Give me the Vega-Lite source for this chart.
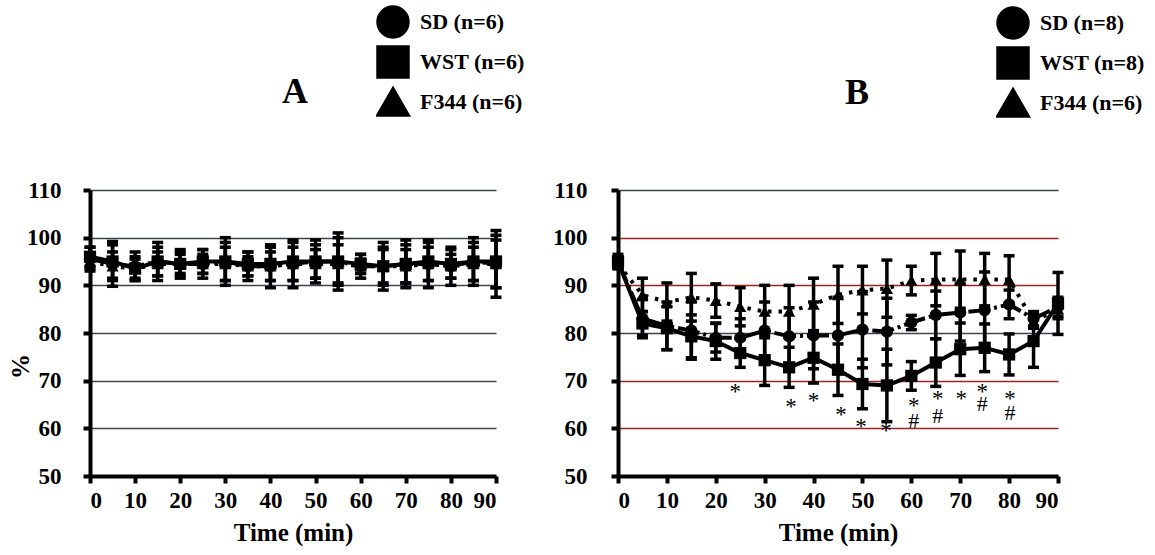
{
  "$schema": "https://vega.github.io/schema/vega-lite/v6.json",
  "background": "white",
  "padding": {"left": 8, "top": 2, "right": 5, "bottom": 5},
  "config": {
    "font": "Liberation Serif",
    "view": {"stroke": null},
    "axis": {
      "domainColor": "black", "domainWidth": 4, "tickColor": "black", "tickWidth": 4, "tickSize": 7,
      "labelFont": "Liberation Serif", "labelFontSize": 23, "labelFontWeight": "bold", "labelColor": "black",
      "titleFont": "Liberation Serif", "titleFontSize": 25, "titleFontWeight": "bold", "titleColor": "black"
    },
    "legend": {"title": null, "orient": "none", "padding": 0, "symbolSize": 900, "clipHeight": 40, "rowPadding": 0,
      "symbolStrokeWidth": 3.5, "symbolStrokeColor": "black", "symbolFillColor": "black",
      "labelFont": "Liberation Serif", "labelFontSize": 22, "labelFontWeight": "bold", "labelColor": "black", "labelOffset": 10},
    "title": {"font": "Liberation Serif", "fontSize": 36, "fontWeight": "bold", "color": "black"}
  },
  "datasets": {
    "a": [
      {"t":0,"label":"SD (n=6)","v":95.5,"e":2.5},{"t":0,"label":"WST (n=6)","v":96,"e":2},{"t":0,"label":"F344 (n=6)","v":95,"e":1.5},
      {"t":5,"label":"SD (n=6)","v":94.5,"e":4.7},{"t":5,"label":"WST (n=6)","v":95,"e":3.5},{"t":5,"label":"F344 (n=6)","v":94,"e":3},
      {"t":10,"label":"SD (n=6)","v":94,"e":3},{"t":10,"label":"WST (n=6)","v":93.5,"e":2.5},{"t":10,"label":"F344 (n=6)","v":93.5,"e":2},
      {"t":15,"label":"SD (n=6)","v":95,"e":4},{"t":15,"label":"WST (n=6)","v":95,"e":3},{"t":15,"label":"F344 (n=6)","v":94.5,"e":2.5},
      {"t":20,"label":"SD (n=6)","v":94.5,"e":3},{"t":20,"label":"WST (n=6)","v":94.5,"e":2.5},{"t":20,"label":"F344 (n=6)","v":94.5,"e":2},
      {"t":25,"label":"SD (n=6)","v":94.5,"e":3},{"t":25,"label":"WST (n=6)","v":95,"e":2.5},{"t":25,"label":"F344 (n=6)","v":94.5,"e":2},
      {"t":30,"label":"SD (n=6)","v":95,"e":5},{"t":30,"label":"WST (n=6)","v":95,"e":4},{"t":30,"label":"F344 (n=6)","v":94.5,"e":3.5},
      {"t":35,"label":"SD (n=6)","v":94,"e":3},{"t":35,"label":"WST (n=6)","v":94.5,"e":2.5},{"t":35,"label":"F344 (n=6)","v":94,"e":2},
      {"t":40,"label":"SD (n=6)","v":94,"e":4.5},{"t":40,"label":"WST (n=6)","v":94.5,"e":3.5},{"t":40,"label":"F344 (n=6)","v":94,"e":3},
      {"t":45,"label":"SD (n=6)","v":94.5,"e":5},{"t":45,"label":"WST (n=6)","v":95,"e":4},{"t":45,"label":"F344 (n=6)","v":94.5,"e":3.5},
      {"t":50,"label":"SD (n=6)","v":95,"e":4.5},{"t":50,"label":"WST (n=6)","v":95,"e":3.5},{"t":50,"label":"F344 (n=6)","v":94.5,"e":3},
      {"t":55,"label":"SD (n=6)","v":95,"e":6},{"t":55,"label":"WST (n=6)","v":95,"e":5},{"t":55,"label":"F344 (n=6)","v":94.5,"e":4},
      {"t":60,"label":"SD (n=6)","v":94,"e":2.5},{"t":60,"label":"WST (n=6)","v":94.5,"e":2},{"t":60,"label":"F344 (n=6)","v":94,"e":1.5},
      {"t":65,"label":"SD (n=6)","v":94,"e":5},{"t":65,"label":"WST (n=6)","v":94,"e":4},{"t":65,"label":"F344 (n=6)","v":94,"e":3.5},
      {"t":70,"label":"SD (n=6)","v":94.5,"e":5},{"t":70,"label":"WST (n=6)","v":94.5,"e":4},{"t":70,"label":"F344 (n=6)","v":94,"e":3.5},
      {"t":75,"label":"SD (n=6)","v":94.5,"e":5},{"t":75,"label":"WST (n=6)","v":95,"e":4},{"t":75,"label":"F344 (n=6)","v":94.5,"e":3.5},
      {"t":80,"label":"SD (n=6)","v":94,"e":4},{"t":80,"label":"WST (n=6)","v":94.5,"e":3},{"t":80,"label":"F344 (n=6)","v":94,"e":2.5},
      {"t":85,"label":"SD (n=6)","v":95,"e":5},{"t":85,"label":"WST (n=6)","v":95,"e":4},{"t":85,"label":"F344 (n=6)","v":94.5,"e":3.5},
      {"t":90,"label":"SD (n=6)","v":94.5,"e":7},{"t":90,"label":"WST (n=6)","v":95,"e":5.5},{"t":90,"label":"F344 (n=6)","v":94.5,"e":5}
    ],
    "b": [
      {"t":0,"label":"SD (n=8)","v":95,"e":1},{"t":0,"label":"WST (n=8)","v":95,"e":1.5},{"t":0,"label":"F344 (n=6)","v":94.5,"e":1},
      {"t":5,"label":"SD (n=8)","v":83,"e":4},{"t":5,"label":"WST (n=8)","v":82,"e":2.5},{"t":5,"label":"F344 (n=6)","v":88,"e":3.5},
      {"t":10,"label":"SD (n=8)","v":81.5,"e":5},{"t":10,"label":"WST (n=8)","v":81,"e":4.5},{"t":10,"label":"F344 (n=6)","v":86.5,"e":4},
      {"t":15,"label":"SD (n=8)","v":80.5,"e":6},{"t":15,"label":"WST (n=8)","v":79.3,"e":4.5},{"t":15,"label":"F344 (n=6)","v":87.5,"e":5},
      {"t":20,"label":"SD (n=8)","v":79,"e":3},{"t":20,"label":"WST (n=8)","v":78.3,"e":3.8},{"t":20,"label":"F344 (n=6)","v":86.8,"e":3.5},
      {"t":25,"label":"SD (n=8)","v":79,"e":4},{"t":25,"label":"WST (n=8)","v":75.8,"e":3},{"t":25,"label":"F344 (n=6)","v":85.5,"e":4},
      {"t":30,"label":"SD (n=8)","v":80.5,"e":6},{"t":30,"label":"WST (n=8)","v":74.3,"e":5.3},{"t":30,"label":"F344 (n=6)","v":84.5,"e":5.5},
      {"t":35,"label":"SD (n=8)","v":79.3,"e":6},{"t":35,"label":"WST (n=8)","v":72.8,"e":4.2},{"t":35,"label":"F344 (n=6)","v":84.5,"e":5.5},
      {"t":40,"label":"SD (n=8)","v":79.5,"e":7},{"t":40,"label":"WST (n=8)","v":74.8,"e":5.3},{"t":40,"label":"F344 (n=6)","v":86,"e":5.5},
      {"t":45,"label":"SD (n=8)","v":79.5,"e":8},{"t":45,"label":"WST (n=8)","v":72.3,"e":5.4},{"t":45,"label":"F344 (n=6)","v":88,"e":6},
      {"t":50,"label":"SD (n=8)","v":80.7,"e":8},{"t":50,"label":"WST (n=8)","v":69.3,"e":5.2},{"t":50,"label":"F344 (n=6)","v":89,"e":5},
      {"t":55,"label":"SD (n=8)","v":80.3,"e":7},{"t":55,"label":"WST (n=8)","v":69,"e":7.6},{"t":55,"label":"F344 (n=6)","v":89.3,"e":6},
      {"t":60,"label":"SD (n=8)","v":82.2,"e":1.5},{"t":60,"label":"WST (n=8)","v":71,"e":3},{"t":60,"label":"F344 (n=6)","v":91,"e":3},
      {"t":65,"label":"SD (n=8)","v":83.8,"e":5},{"t":65,"label":"WST (n=8)","v":73.8,"e":5},{"t":65,"label":"F344 (n=6)","v":91.2,"e":5.5},
      {"t":70,"label":"SD (n=8)","v":84.3,"e":6},{"t":70,"label":"WST (n=8)","v":76.6,"e":5.5},{"t":70,"label":"F344 (n=6)","v":91.2,"e":6},
      {"t":75,"label":"SD (n=8)","v":84.8,"e":8},{"t":75,"label":"WST (n=8)","v":76.9,"e":5},{"t":75,"label":"F344 (n=6)","v":91.2,"e":5.5},
      {"t":80,"label":"SD (n=8)","v":86,"e":3},{"t":80,"label":"WST (n=8)","v":75.5,"e":4.3},{"t":80,"label":"F344 (n=6)","v":91.2,"e":5},
      {"t":85,"label":"SD (n=8)","v":83,"e":1.5},{"t":85,"label":"WST (n=8)","v":78.3,"e":5.5},{"t":85,"label":"F344 (n=6)","v":82.5,"e":1.5},
      {"t":90,"label":"SD (n=8)","v":85.5,"e":2},{"t":90,"label":"WST (n=8)","v":86.2,"e":6.5},{"t":90,"label":"F344 (n=6)","v":85,"e":2}
    ],
    "marks": [
      {"t":24,"v":68.5,"s":"*"},{"t":35.4,"v":65.3,"s":"*"},{"t":40,"v":66.6,"s":"*"},{"t":45.6,"v":63.6,"s":"*"},
      {"t":49.7,"v":61.1,"s":"*"},{"t":54.8,"v":60.3,"s":"*"},{"t":60.5,"v":65.5,"s":"*"},{"t":60.5,"v":61.7,"s":"#"},
      {"t":65.4,"v":67,"s":"*"},{"t":65.4,"v":62.8,"s":"#"},{"t":70.2,"v":67,"s":"*"},{"t":74.5,"v":68.4,"s":"*"},
      {"t":74.5,"v":65.3,"s":"#"},{"t":80.2,"v":67,"s":"*"},{"t":80.2,"v":63.4,"s":"#"}
    ]
  },
  "bounds": "flush",
  "spacing": 122,
  "resolve": {"scale": {"shape": "independent"}, "legend": {"shape": "independent"}},
  "hconcat": [
    {
      "width": 406, "height": 286,
      "title": {"text": "A", "anchor": "middle", "frame": "group", "baseline": "alphabetic", "offset": 0, "dy": 137, "dx": 2},
      "data": {"name": "a"},
      "encoding": {
        "x": {"field": "t", "type": "quantitative", "scale": {"domain": [0, 90], "nice": false},
              "axis": {"values": [0,10,20,30,40,50,60,70,80,90], "grid": false, "labelPadding": 6, "titlePadding": 8, "title": "Time (min)"}},
        "y": {"field": "v", "type": "quantitative", "scale": {"domain": [50, 110], "nice": false},
              "axis": {"values": [50,60,70,80,90,100,110], "grid": true, "gridColor": "#3c4350", "gridWidth": 1.6, "gridOpacity": 1,
                       "labelPadding": 22, "title": "%", "titleX": -70, "titleY": 176, "titleAlign": "center", "titleBaseline": "middle"}}
      },
      "layer": [
        {"mark": {"type": "errorbar", "ticks": {"size": 11, "opacity": 1}, "thickness": 3.5, "color": "black"},
         "encoding": {"yError": {"field": "e"}, "detail": {"field": "label"}}},
        {"transform": [{"filter": "datum.label === 'SD (n=6)'"}],
         "mark": {"type": "line", "strokeWidth": 4, "color": "black", "strokeDash": [22,4,3,4]}},
        {"transform": [{"filter": "datum.label === 'WST (n=6)'"}],
         "mark": {"type": "line", "strokeWidth": 4, "color": "black"}},
        {"transform": [{"filter": "datum.label === 'F344 (n=6)'"}],
         "mark": {"type": "line", "strokeWidth": 4, "color": "black", "strokeDash": [3.5,7]}},
        {"mark": {"type": "point", "filled": true, "size": 150, "color": "black", "opacity": 1},
         "encoding": {"shape": {"field": "label", "type": "nominal",
           "scale": {"domain": ["SD (n=6)", "WST (n=6)", "F344 (n=6)"], "range": ["circle", "square", "triangle-up"]},
           "legend": {"legendX": 286, "legendY": -188,
             "encoding": {"symbols": {
               "shape": {"condition": [
                 {"test": "datum.value === 'SD (n=6)'", "value": "M-1.2,0H-0.35M-0.33,0A0.33,0.33,0,1,1,0.33,0A0.33,0.33,0,1,1,-0.33,0ZM1,0H1.15"},
                 {"test": "datum.value === 'WST (n=6)'", "value": "M-1.25,0H1.35M-0.35,-0.35H0.45V0.35H-0.35Z"}],
                 "value": "M-1.25,0H-1.13M-0.85,0H-0.73M0.7,0H0.82M1.08,0H1.2M-0.05,-0.42L0.3,0.3H-0.4Z"},
               "fill": {"value": "black"}, "stroke": {"value": "black"}, "strokeWidth": {"value": 3.5}, "opacity": {"value": 1}}}}}}}
      ]
    },
    {
      "width": 440, "height": 286,
      "title": {"text": "B", "anchor": "middle", "frame": "group", "baseline": "alphabetic", "offset": 0, "dy": 137, "dx": 19},
      "layer": [
        {
          "data": {"name": "b"},
          "encoding": {
            "x": {"field": "t", "type": "quantitative", "scale": {"domain": [0, 90], "nice": false},
                  "axis": {"values": [0,10,20,30,40,50,60,70,80,90], "grid": false, "labelPadding": 6, "titlePadding": 8, "title": "Time (min)"}},
            "y": {"field": "v", "type": "quantitative", "scale": {"domain": [50, 110], "nice": false},
                  "axis": {"values": [50,60,70,80,90,100,110], "grid": true, "gridWidth": 1.6, "gridOpacity": 1,
                           "gridColor": {"condition": {"test": "datum.value === 80 || datum.value === 110", "value": "#3c4350"}, "value": "#9e2222"},
                           "labelPadding": 24, "title": null}}
          },
          "layer": [
            {"mark": {"type": "errorbar", "ticks": {"size": 11, "opacity": 1}, "thickness": 3.5, "color": "black"},
             "encoding": {"yError": {"field": "e"}, "detail": {"field": "label"}}},
            {"transform": [{"filter": "datum.label === 'SD (n=8)'"}],
             "mark": {"type": "line", "strokeWidth": 4, "color": "black", "strokeDash": [22,4,3,4]}},
            {"transform": [{"filter": "datum.label === 'WST (n=8)'"}],
             "mark": {"type": "line", "strokeWidth": 4, "color": "black"}},
            {"transform": [{"filter": "datum.label === 'F344 (n=6)'"}],
             "mark": {"type": "line", "strokeWidth": 4, "color": "black", "strokeDash": [3.5,7]}},
            {"mark": {"type": "point", "filled": true, "size": 150, "color": "black", "opacity": 1},
             "encoding": {"shape": {"field": "label", "type": "nominal",
               "scale": {"domain": ["SD (n=8)", "WST (n=8)", "F344 (n=6)"], "range": ["circle", "square", "triangle-up"]},
               "legend": {"legendX": 378, "legendY": -187,
                 "encoding": {"symbols": {
                   "shape": {"condition": [
                     {"test": "datum.value === 'SD (n=8)'", "value": "M-1.2,0H-0.35M-0.33,0A0.33,0.33,0,1,1,0.33,0A0.33,0.33,0,1,1,-0.33,0ZM1,0H1.15"},
                     {"test": "datum.value === 'WST (n=8)'", "value": "M-1.25,0H1.35M-0.35,-0.35H0.45V0.35H-0.35Z"}],
                     "value": "M-1.25,0H-1.13M-0.85,0H-0.73M0.7,0H0.82M1.08,0H1.2M-0.05,-0.42L0.3,0.3H-0.4Z"},
                   "fill": {"value": "black"}, "stroke": {"value": "black"}, "strokeWidth": {"value": 3.5}, "opacity": {"value": 1}}}}}}}
          ]
        },
        {
          "data": {"name": "marks"},
          "transform": [{"filter": "datum.s === '*'"}],
          "mark": {"type": "text", "font": "Liberation Serif", "fontSize": 23, "baseline": "middle", "align": "center", "dy": 4, "color": "black"},
          "encoding": {"x": {"field": "t", "type": "quantitative"}, "y": {"field": "v", "type": "quantitative"}, "text": {"field": "s"}}
        },
        {
          "data": {"name": "marks"},
          "transform": [{"filter": "datum.s === '#'"}],
          "mark": {"type": "text", "font": "Liberation Serif", "fontSize": 22, "baseline": "middle", "align": "center", "dy": 1, "color": "black"},
          "encoding": {"x": {"field": "t", "type": "quantitative"}, "y": {"field": "v", "type": "quantitative"}, "text": {"field": "s"}}
        }
      ]
    }
  ]
}
